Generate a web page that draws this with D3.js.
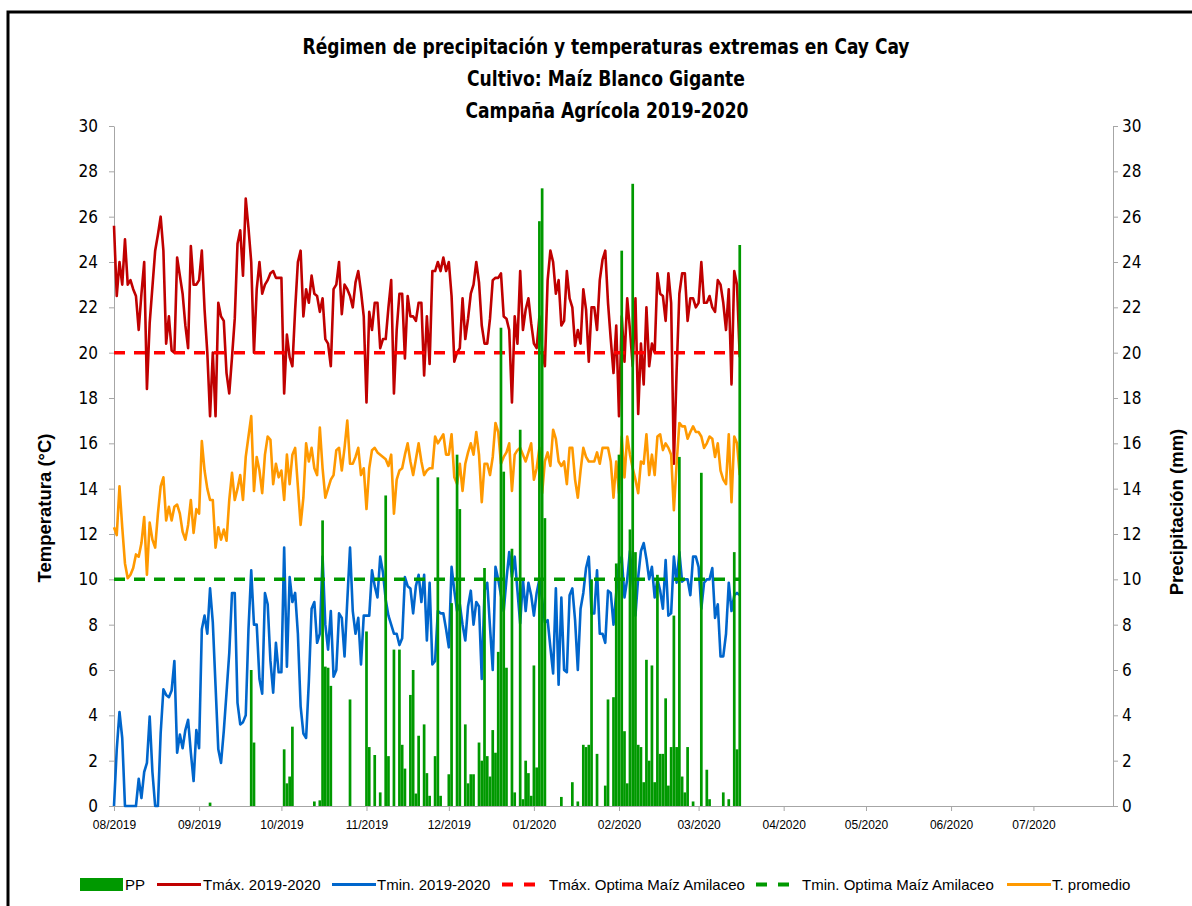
<!DOCTYPE html>
<html>
<head>
<meta charset="utf-8">
<script src="https://cdn.jsdelivr.net/npm/d3@7"></script>
<style>
  body { margin: 0; background: #fff; }
  svg { display: block; font-family: "Liberation Sans", Arial, sans-serif; }
  .narrow { font-family: "Liberation Sans Narrow", "DejaVu Sans Condensed", "Liberation Sans", sans-serif; }
</style>
</head>
<body>
<svg id="chart" width="1192" height="906"></svg>
<script>
// daily series, first value = 1 Aug 2019
var startDate = new Date(2019, 7, 1);

var titleLines = ["Régimen de precipitación y temperaturas extremas en Cay Cay",
                  "Cultivo: Maíz Blanco Gigante",
                  "Campaña Agrícola 2019-2020"];

var tmax = [
  25.6,22.5,24.0,23.0,25.0,23.0,23.2,22.8,22.5,21.0,
  22.6,24.0,18.4,21.3,22.9,24.5,25.2,26.0,24.5,20.4,
  21.6,20.1,20.0,24.2,23.4,22.6,21.2,20.2,24.7,23.0,
  23.0,23.2,24.5,21.9,20.0,17.2,20.0,17.2,22.2,21.6,
  21.4,19.1,18.2,19.8,21.5,24.8,25.4,23.4,26.8,25.5,
  24.0,20.0,22.8,24.0,22.6,23.0,23.2,23.5,23.6,23.3,
  23.3,23.3,18.2,20.8,19.8,19.4,21.9,24.0,24.5,21.6,
  22.8,22.2,23.4,22.6,22.5,21.8,22.4,20.6,20.4,19.4,
  22.8,23.0,24.0,21.7,23.0,22.8,22.5,22.0,23.1,23.6,
  22.7,21.6,17.8,21.8,21.0,22.2,22.2,20.2,20.6,20.6,
  22.0,23.2,18.2,21.0,22.6,22.6,19.75,22.5,21.6,21.6,
  21.4,22.2,22.2,19.0,21.6,19.5,23.6,23.6,24.0,23.6,
  24.2,23.6,24.0,22.5,19.6,20.0,20.2,22.4,20.6,21.5,
  22.6,23.0,24.0,23.1,21.2,20.4,20.4,21.5,23.2,23.3,
  23.3,23.5,21.6,21.5,21.0,17.8,21.6,20.4,23.6,21.0,
  21.9,22.4,21.3,20.4,20.2,21.6,20.1,19.4,23.2,24.5,
  24.0,22.6,23.2,21.2,21.4,23.6,22.4,22.0,20.3,21.0,
  20.4,22.8,21.9,19.6,22.0,22.0,21.0,23.2,24.1,24.5,
  22.2,20.6,19.1,21.2,17.2,21.6,19.6,22.4,21.0,19.4,
  22.4,17.3,20.4,18.6,22.0,19.4,20.4,20.0,23.5,22.6,
  22.5,21.4,23.5,22.2,15.1,19.2,22.6,23.5,23.5,21.4,
  22.4,22.4,22.0,22.2,24.0,22.2,22.2,22.5,22.0,21.8,
  23.2,23.0,22.2,21.0,22.8,18.6,23.6,23.0,19.8
];

var tmin = [
  0,2.5,4.15,3.0,0,0,0,0,0,1.2,
  0.35,1.5,1.9,3.95,1.5,0,0,3.2,5.15,4.9,
  4.8,5.1,6.4,2.35,3.15,2.55,3.35,3.8,2.35,1.1,
  3.35,2.55,7.8,8.4,7.6,9.6,8.1,5.3,2.5,1.9,
  3.3,5.0,6.75,9.4,9.4,4.55,3.6,3.7,4.0,7.8,
  10.4,8.0,8.0,5.6,4.95,9.4,8.9,6.4,5.0,7.2,
  5.9,5.9,11.4,6.15,10.1,9.0,9.4,7.6,4.4,3.2,
  3.0,5.5,8.7,9.0,7.2,7.6,11.0,8.0,6.9,8.6,
  5.7,6.0,8.5,8.3,6.6,9.05,11.4,8.6,7.6,8.3,
  6.25,8.4,8.4,8.4,10.4,9.7,9.2,11.0,10.3,9.1,
  8.4,8.0,7.6,7.6,7.1,7.4,10.1,9.7,9.6,8.5,
  9.7,10.2,9.0,10.2,7.3,9.85,6.25,6.4,8.6,8.5,
  8.5,7.8,7.0,10.55,9.5,8.6,8.9,8.0,7.3,8.8,
  9.5,8.0,9.0,8.8,5.6,9.5,9.85,7.9,6.0,10.55,
  10.0,9.3,8.6,10.0,11.2,10.1,11.0,9.5,8.05,10.0,
  8.6,9.85,9.3,8.4,9.4,10.0,9.1,8.1,8.2,7.0,
  5.85,9.6,5.35,9.2,6.0,5.9,9.3,9.6,8.2,6.0,
  8.7,9.4,10.5,11.0,8.5,8.5,10.4,7.6,7.6,7.2,
  9.5,9.4,8.0,9.4,10.7,11.0,9.2,10.0,11.25,9.8,
  8.4,10.1,11.25,11.6,10.9,10.0,10.55,9.2,10.0,9.5,
  8.7,10.85,8.4,8.5,11.0,9.85,11.2,9.9,10.0,10.0,
  9.3,11.0,11.0,10.55,8.7,9.85,10.0,10.0,10.5,8.3,
  8.9,6.6,6.6,7.6,9.85,8.6,9.3,9.4,9.3
];

var tprom = [
  12.3,11.95,14.1,12.3,10.7,10.05,10.2,10.5,11.1,11.0,
  11.6,12.75,10.2,12.5,11.75,11.4,12.9,14.1,14.5,12.6,
  13.2,12.6,13.2,13.3,12.9,12.1,11.75,12.4,13.5,12.05,
  13.1,12.9,16.1,14.8,14.0,13.5,13.5,11.4,12.3,11.75,
  12.2,11.7,13.5,14.7,13.5,14.0,14.6,13.5,15.4,16.3,
  17.2,13.9,15.4,14.8,13.8,15.5,16.3,16.15,14.2,15.1,
  14.5,14.8,13.5,15.5,14.2,15.5,15.8,14.1,12.4,13.6,
  16.0,15.2,15.8,14.9,14.6,16.7,14.9,13.6,14.0,14.4,
  14.6,15.7,15.8,14.8,15.8,17.0,15.1,15.1,15.4,15.8,
  14.6,14.9,13.1,14.9,15.7,15.8,15.6,15.5,15.4,15.3,
  15.0,15.5,12.9,14.4,14.8,14.9,15.5,16.0,15.2,14.6,
  15.3,16.0,15.2,14.6,14.8,14.9,14.9,16.3,16.0,16.2,
  16.4,15.5,15.5,16.4,14.5,14.2,15.1,13.9,15.1,15.6,
  16.0,15.5,16.5,15.5,13.4,15.1,15.1,14.6,15.4,16.9,
  16.5,15.1,15.4,15.6,16.0,13.9,15.5,15.7,15.8,15.5,
  15.2,15.6,16.0,14.4,14.9,15.8,13.8,15.2,15.6,15.0,
  16.6,16.2,15.2,15.0,15.2,14.2,15.8,15.8,14.4,13.6,
  14.8,15.8,15.4,15.2,15.2,15.2,15.6,15.1,15.8,15.8,
  15.8,15.2,13.6,15.2,13.8,16.3,14.5,16.3,15.5,14.9,
  14.4,13.8,15.2,15.1,16.4,14.6,15.5,14.6,16.3,16.4,
  15.7,16.0,15.8,15.5,13.05,15.1,16.9,16.75,16.75,16.2,
  16.5,16.75,16.5,16.5,16.3,15.8,16.0,16.3,16.2,15.4,
  16.0,14.8,14.4,14.2,16.4,13.4,16.3,16.0,14.6
];

var pp = [
  0,0,0,0,0,0,0,0,0,0,
  0,0,0,0,0,0,0,0,0,0,
  0,0,0,0,0,0,0,0,0,0,
  0,0,0,0,0,0.15,0,0,0,0,
  0,0,0,0,0,0,0,0,0,0,
  6.0,2.8,0,0,0,0,0,0,0,0,
  0,0,2.5,1.0,1.3,3.5,0,0,0,0,
  0,0,0,0.2,0,0.25,12.6,6.15,6.1,5.3,
  0,0,0,0,0,0,4.7,0,0,0,
  0,0,7.7,2.6,0,2.25,0,0.6,0,13.7,
  2.2,0,6.9,0,6.9,2.7,1.65,0,4.9,6.0,
  0.55,3.1,0,3.6,1.45,0.45,0,2.2,14.5,0.45,
  0,0,1.4,8.95,0,15.5,13.1,0,3.6,1.0,
  1.4,1.4,0,2.8,2.0,10.5,2.2,1.3,3.35,2.35,
  6.8,21.1,14.75,6.1,0,11.35,0.6,0,16.6,0.3,
  2.0,1.45,0.45,6.2,1.7,25.8,27.25,12.7,0,0,
  0,0,0,0.4,0,0,0,1.05,0,0.2,
  0,2.7,2.6,2.7,10.0,0,2.3,0,0,0.9,
  4.7,0,4.8,10.7,15.5,24.5,3.3,1.0,12.2,27.45,
  11.2,2.7,2.6,1.05,6.45,2.0,6.2,1.05,10.2,2.3,
  2.3,4.75,0.9,2.6,8.4,2.6,15.4,1.3,0.6,2.6,
  0,0.2,0,0,14.7,0,1.6,0.3,0,0,
  0,0,0.6,0,0.3,0,11.2,2.5,24.75
];

var tmaxOptima = 20;
var tminOptima = 10;
var yTicks = [0,2,4,6,8,10,12,14,16,18,20,22,24,26,28,30];

var legendItems = [
  { label: "PP",                          color: "#009900", type: "bar"  },
  { label: "Tmáx. 2019-2020",             color: "#c00000", type: "line" },
  { label: "Tmin. 2019-2020",             color: "#0066cc", type: "line" },
  { label: "Tmáx. Optima Maíz Amilaceo",  color: "#ff0000", type: "dash" },
  { label: "Tmin. Optima Maíz Amilaceo",  color: "#009900", type: "dash" },
  { label: "T. promedio",                 color: "#ff9900", type: "line" }
];

var days = tmax.map(function(d, i) { return d3.timeDay.offset(startDate, i); });

var svg = d3.select("#chart");

var x = d3.scaleTime()
  .domain([new Date(2019, 7, 1), new Date(2020, 6, 30)])
  .range([114, 1113]);
var yL = d3.scaleLinear().domain([0, 30]).range([806, 126]);
var yR = d3.scaleLinear().domain([0, 30]).range([806, 126]);

// frame
svg.append("path")
  .attr("d", "M8,906V12H1192")
  .attr("fill", "none").attr("stroke", "#000").attr("stroke-width", 3);

// title
var titleW = [607, 278, 283];
svg.selectAll(".title")
  .data(titleLines)
  .enter().append("text")
  .attr("class", "title narrow")
  .attr("x", function(d, i) { return i == 2 ? 607 : 606; })
  .attr("y", function(d, i) { return 54 + i * 32; })
  .attr("text-anchor", "middle")
  .attr("font-size", 21)
  .attr("font-weight", "bold")
  .attr("textLength", function(d, i) { return titleW[i]; })
  .attr("lengthAdjust", "spacingAndGlyphs")
  .text(function(d) { return d; });

// axes
var monthTicks = d3.timeMonth.range(new Date(2019, 7, 1), new Date(2020, 7, 1));

var xAxis = svg.append("g")
  .attr("transform", "translate(0,806)")
  .call(d3.axisBottom(x).tickValues(monthTicks).tickFormat(d3.timeFormat("%m/%Y"))
        .tickSize(5).tickSizeOuter(0).tickPadding(9));
xAxis.selectAll("text").attr("font-size", 12).attr("fill", "#000");

var yAxisL = svg.append("g")
  .attr("transform", "translate(114,0)")
  .call(d3.axisLeft(yL).tickValues(yTicks).tickSize(5).tickSizeOuter(0).tickPadding(11));
yAxisL.selectAll("text").attr("class", "narrow").attr("font-size", 17).attr("fill", "#000");

var yAxisR = svg.append("g")
  .attr("transform", "translate(1113,0)")
  .call(d3.axisRight(yR).tickValues(yTicks).tickSize(5).tickSizeOuter(0).tickPadding(4));
yAxisR.selectAll("text").attr("class", "narrow").attr("font-size", 17).attr("fill", "#000");

svg.selectAll(".domain, .tick line").attr("stroke", "#a6a6a6");

svg.append("text")
  .attr("transform", "translate(51,508) rotate(-90)")
  .attr("text-anchor", "middle").attr("font-size", 18.5).attr("font-weight", "bold")
  .text("Temperatura (°C)");
svg.append("text")
  .attr("transform", "translate(1183,512) rotate(-90)")
  .attr("text-anchor", "middle").attr("font-size", 18.5).attr("font-weight", "bold")
  .text("Precipitación (mm)");

// temperature lines (primary axis)
function addLine(values, color, width) {
  var line = d3.line()
    .x(function(d, i) { return x(days[i]); })
    .y(function(d) { return yL(d); });
  svg.append("path")
    .datum(values)
    .attr("d", line)
    .attr("fill", "none")
    .attr("stroke", color)
    .attr("stroke-width", width)
    .attr("stroke-linejoin", "round");
}
addLine(tmax, "#c00000", 2.6);
addLine(tmin, "#0066cc", 2.6);

function addRef(value, color) {
  svg.append("line")
    .attr("x1", x(days[0])).attr("x2", x(days[days.length - 1]))
    .attr("y1", yL(value)).attr("y2", yL(value))
    .attr("stroke", color).attr("stroke-width", 3.5)
    .attr("stroke-dasharray", "11,9");
}
addRef(tmaxOptima, "#ff0000");
addRef(tminOptima, "#009900");

addLine(tprom, "#ff9900", 2.6);

// precipitation bars (secondary axis, drawn on top)
var barW = 2.7;
var ppData = pp.map(function(v, i) { return { date: days[i], v: v }; })
               .filter(function(d) { return d.v > 0; });
svg.append("g").selectAll("rect")
  .data(ppData)
  .enter().append("rect")
  .attr("x", function(d) { return x(d.date) - barW / 2; })
  .attr("y", function(d) { return yR(d.v); })
  .attr("width", barW)
  .attr("height", function(d) { return yR(0) - yR(d.v); })
  .attr("fill", "#009900");

// legend
var legendX = [80, 157, 332, 502, 756, 1007];
var legendTextX = [125, 203, 377, 549, 802, 1052];
var lg = svg.append("g").attr("class", "legend");
legendItems.forEach(function(it, i) {
  if (it.type == "bar") {
    lg.append("rect").attr("x", legendX[i]).attr("y", 878)
      .attr("width", 43).attr("height", 13).attr("fill", it.color);
  } else if (it.type == "line") {
    lg.append("line").attr("x1", legendX[i]).attr("x2", legendX[i] + 44)
      .attr("y1", 884.5).attr("y2", 884.5)
      .attr("stroke", it.color).attr("stroke-width", 3);
  } else {
    lg.append("line").attr("x1", legendX[i]).attr("x2", legendX[i] + 33)
      .attr("y1", 884.5).attr("y2", 884.5)
      .attr("stroke", it.color).attr("stroke-width", 4)
      .attr("stroke-dasharray", "11,11");
  }
  lg.append("text").attr("x", legendTextX[i]).attr("y", 890)
    .attr("font-size", 15).attr("fill", "#000")
    .text(it.label);
});
</script>
</body>
</html>
